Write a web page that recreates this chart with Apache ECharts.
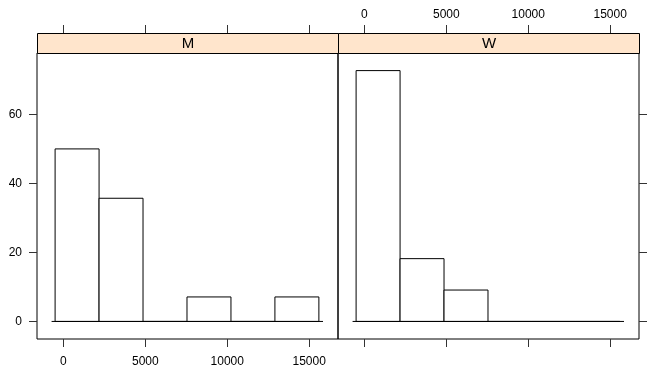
<!DOCTYPE html>
<html><head><meta charset="utf-8">
<script src="https://cdn.jsdelivr.net/npm/echarts@6/dist/echarts.min.js"></script>
<style>html,body{margin:0;padding:0;background:#fff}#c{width:667px;height:378px}</style>
</head><body><div id="c"></div>
<script>
// Histogram bin breaks (shared by both panels)
var breaks = [-505, 2178, 4861, 7544, 10227, 12910, 15593];
// Percent of total in each bin
var valuesM = [50, 35.7, 0, 7.1, 0, 7.1];
var valuesW = [72.7, 18.2, 9.1, 0, 0, 0];
var panels = ['M', 'W'];
var xTicks = [0, 5000, 10000, 15000];
var yTicks = [0, 20, 40, 60];
var baselineRange = [-720, 15845];

function binData(vals) {
  return vals.map(function (v, i) { return [breaks[i], breaks[i + 1], v]; });
}

var FONT = 'Liberation Sans, Arial, Helvetica, sans-serif';
var TICKC = '#333';
var XMIN = -1610, XMAX = 16760, YMIN = -5.09, YMAX = 77.8;
function plain(v) { return String(v); }

function xAxisCfg(gi, pos, labels, offset) {
  return {
    type: 'value', gridIndex: gi, position: pos, min: XMIN, max: XMAX, offset: offset || 0,
    splitLine: { show: false }, axisLine: { show: false, onZero: false },
    axisTick: { show: true, length: 8, inside: false, customValues: xTicks, lineStyle: { color: TICKC, width: 1 } },
    axisLabel: { show: labels, customValues: xTicks, formatter: plain, margin: pos === 'top' ? 12 : 17, color: '#000', fontSize: 12, fontFamily: FONT }
  };
}
function yAxisCfg(gi, pos, labels) {
  return {
    type: 'value', gridIndex: gi, position: pos, min: YMIN, max: YMAX,
    splitLine: { show: false }, axisLine: { show: false, onZero: false },
    axisTick: { show: true, length: 8, customValues: yTicks, lineStyle: { color: TICKC, width: 1 } },
    axisLabel: { show: labels, customValues: yTicks, formatter: plain, margin: 15, color: '#000', fontSize: 12, fontFamily: FONT }
  };
}

function renderBar(params, api) {
  var p0 = api.coord([api.value(0), api.value(2)]);
  var p1 = api.coord([api.value(1), 0]);
  return {
    type: 'rect',
    shape: { x: p0[0], y: p0[1], width: p1[0] - p0[0], height: p1[1] - p0[1] },
    style: { fill: '#fff', stroke: '#000', lineWidth: 1 }
  };
}

var grids = [
  { left: 37, top: 53, width: 301, height: 286 },
  { left: 338, top: 53, width: 301, height: 286 }
];

var chart = echarts.init(document.getElementById('c'), null, { renderer: 'canvas' });
var option = {
  animation: false,
  backgroundColor: '#fff',
  grid: grids.map(function (g) { return Object.assign({ show: true, borderColor: '#000', borderWidth: 1, backgroundColor: 'transparent' }, g); }),
  xAxis: [
    xAxisCfg(0, 'bottom', true),
    xAxisCfg(0, 'top', false, 20),
    xAxisCfg(1, 'bottom', false),
    xAxisCfg(1, 'top', true, 20)
  ],
  yAxis: [
    yAxisCfg(0, 'left', true),
    yAxisCfg(1, 'right', false)
  ],
  series: [
    { type: 'custom', xAxisIndex: 0, yAxisIndex: 0, renderItem: renderBar, data: binData(valuesM), encode: { x: [0, 1], y: 2 } },
    { type: 'line', xAxisIndex: 0, yAxisIndex: 0, data: [[baselineRange[0], 0], [baselineRange[1], 0]], symbol: 'none', lineStyle: { color: '#000', width: 1 }, silent: true },
    { type: 'custom', xAxisIndex: 2, yAxisIndex: 1, renderItem: renderBar, data: binData(valuesW), encode: { x: [0, 1], y: 2 } },
    { type: 'line', xAxisIndex: 2, yAxisIndex: 1, data: [[baselineRange[0], 0], [baselineRange[1], 0]], symbol: 'none', lineStyle: { color: '#000', width: 1 }, silent: true }
  ],
  graphic: grids.map(function (g, i) {
    return {
      type: 'group', left: g.left, top: 33,
      children: [
        { type: 'rect', shape: { x: 0, y: 0, width: g.width, height: 20 }, style: { fill: '#ffe5cc', stroke: '#000', lineWidth: 1 } },
        { type: 'text', x: g.width / 2, y: 10, style: { text: panels[i], fill: '#000', font: '15px ' + FONT, align: 'center', verticalAlign: 'middle' } }
      ]
    };
  })
};
chart.setOption(option);
</script>
</body></html>
